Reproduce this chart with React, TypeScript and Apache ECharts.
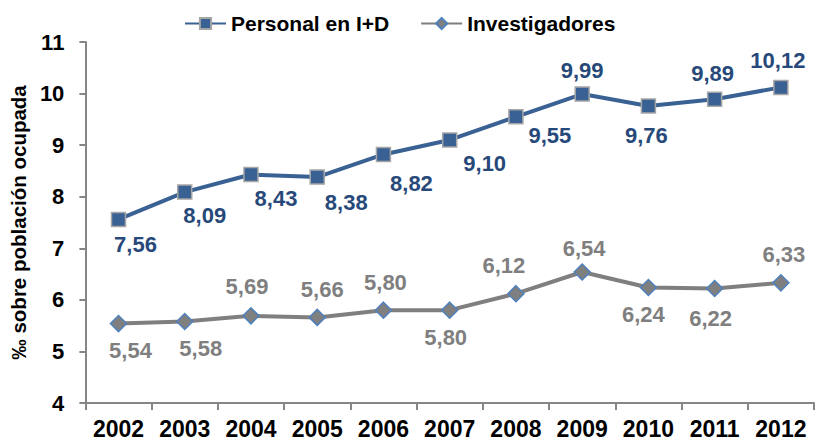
import React, { useEffect, useRef } from "react";
import * as echarts from "echarts";

const years = ["2002", "2003", "2004", "2005", "2006", "2007", "2008", "2009", "2010", "2011", "2012"];
const personal = [7.56, 8.09, 8.43, 8.38, 8.82, 9.1, 9.55, 9.99, 9.76, 9.89, 10.12];
const investigadores = [5.54, 5.58, 5.69, 5.66, 5.8, 5.8, 6.12, 6.54, 6.24, 6.22, 6.33];
const yTicks = [4, 5, 6, 7, 8, 9, 10, 11];

// label placement offsets (layout only)
const personalLabelOffsets: [number, number][] = [
  [17, 25], [20, 23], [25, 24], [29, 25], [28, 29], [35, 24], [34, 19], [0, -24], [-2, 30], [-2, -26], [-3, -27],
];
const investLabelOffsets: [number, number][] = [
  [12, 27], [16, 27], [-4, -29], [5, -28], [2, -28], [-4, 27], [-12, -28], [2, -24], [-5, 27], [-4, 30], [3, -28],
];

const FONT = "'Liberation Sans', Arial, sans-serif";
const fmt = (v: number) => v.toFixed(2).replace(".", ",");

export default function App() {
  const ref = useRef<HTMLDivElement>(null);
  useEffect(() => {
    if (!ref.current) return;
    const chart = echarts.init(ref.current, undefined, { renderer: "svg" });
    const mk = (vals: number[], offs: [number, number][]) =>
      vals.map((v, i) => ({
        value: v,
        label: { offset: offs[i] },
      }));
    chart.setOption({
      animation: false,
      textStyle: { fontFamily: FONT },
      legend: {
        left: 179,
        top: 8,
        itemWidth: 41,
        itemHeight: 14,
        itemGap: 31,
        textStyle: { fontFamily: FONT, fontSize: 21, fontWeight: "bold", color: "#000" },
        data: ["Personal en I+D", "Investigadores"],
      },
      grid: { left: 84, right: 2, top: 42, bottom: 38 },
      xAxis: {
        type: "category",
        data: years,
        boundaryGap: true,
        axisLine: { lineStyle: { color: "#868686", width: 2 } },
        axisTick: { show: true, length: 7, lineStyle: { color: "#868686", width: 2 } },
        axisLabel: { fontFamily: FONT, fontSize: 23, fontWeight: "bold", color: "#000", margin: 14, interval: 0 },
      },
      yAxis: {
        type: "value",
        min: yTicks[0],
        max: yTicks[yTicks.length - 1],
        interval: 1,
        name: "‰ sobre población ocupada",
        nameLocation: "middle",
        nameGap: 46,
        nameTextStyle: { fontFamily: FONT, fontSize: 20.5, fontWeight: "bold", color: "#000" },
        splitLine: { show: false },
        axisLine: { show: true, lineStyle: { color: "#868686", width: 2 } },
        axisTick: { show: true, length: 6, lineStyle: { color: "#868686", width: 2 } },
        axisLabel: { fontFamily: FONT, fontSize: 22, fontWeight: "bold", color: "#000", margin: 21 },
      },
      series: [
        {
          name: "Personal en I+D",
          type: "line",
          data: mk(personal, personalLabelOffsets),
          symbol: "rect",
          symbolSize: 14,
          lineStyle: { color: "#3A6193", width: 4 },
          itemStyle: { color: "#3A6193", borderColor: "#A6A6A6", borderWidth: 1.5 },
          label: {
            show: true,
            position: "inside",
            align: "center",
            verticalAlign: "middle",
            formatter: (p: any) => fmt(p.value),
            fontFamily: FONT,
            fontSize: 22,
            fontWeight: "bold",
            color: "#27497A",
          },
          z: 3,
        },
        {
          name: "Investigadores",
          type: "line",
          data: mk(investigadores, investLabelOffsets),
          symbol: "diamond",
          symbolSize: 16,
          lineStyle: { color: "#7F7F7F", width: 4 },
          itemStyle: { color: "#7F7F7F", borderColor: "#4F81BD", borderWidth: 1.5 },
          label: {
            show: true,
            position: "inside",
            align: "center",
            verticalAlign: "middle",
            formatter: (p: any) => fmt(p.value),
            fontFamily: FONT,
            fontSize: 22,
            fontWeight: "bold",
            color: "#7F7F7F",
          },
          z: 2,
        },
      ],
    });
    return () => chart.dispose();
  }, []);
  return <div ref={ref} style={{ width: 816, height: 441, position: "absolute", left: 0, top: 0 }} />;
}
